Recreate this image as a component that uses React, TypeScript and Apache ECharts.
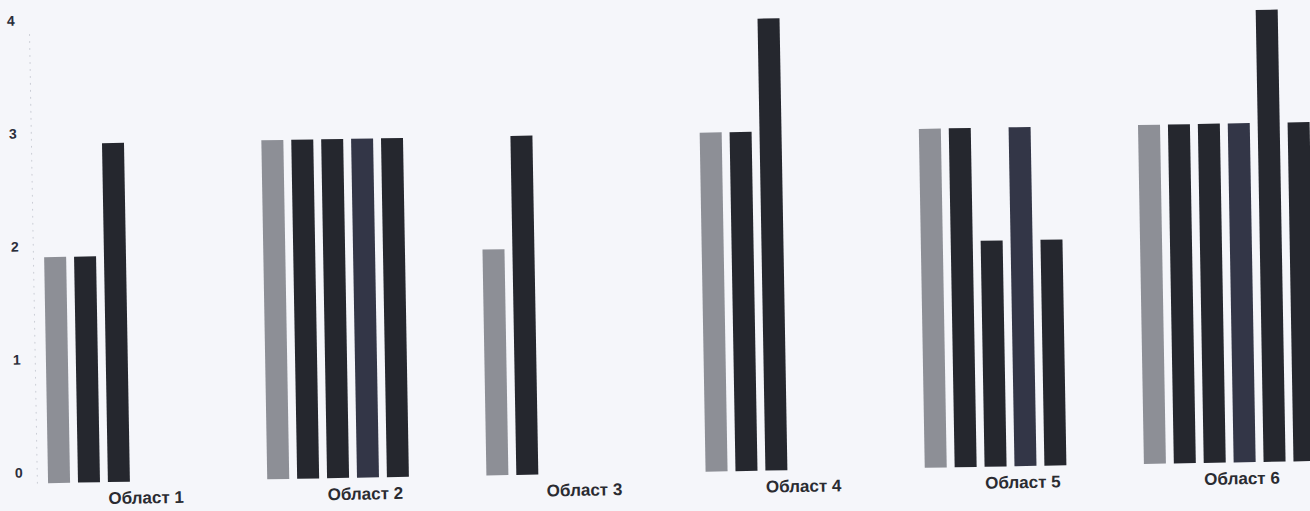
import React, { useEffect, useRef } from 'react';
import * as echarts from 'echarts';

const categories = ['Област 1', 'Област 2', 'Област 3', 'Област 4', 'Област 5', 'Област 6'];
const series1 = [2, 3, 2, 3, 3, 3];
const series2 = [2, 3, 3, 3, 3, 3];
const series3 = [3, 3, null, 4, 2, 3];
const series4 = [null, 3, null, null, 3, 3];
const series5 = [null, 3, null, null, 2, 4];
const series6 = [null, null, null, null, null, 3];
const yTicks = [0, 1, 2, 3, 4];

export default function App() {
  const ref = useRef<HTMLDivElement>(null);
  useEffect(() => {
    const chart = echarts.init(ref.current as HTMLDivElement, null, { renderer: 'svg' });
    const seriesData = [series1, series2, series3, series4, series5, series6];
    const colors = ['#8d8f96', '#25272e', '#25272e', '#333647', '#25272e', '#25272e'];
    chart.setOption({
      animation: false,
      backgroundColor: 'transparent',
      grid: { left: 20.4, top: 20.5, width: 1315.2, bottom: 38.5 },
      xAxis: {
        type: 'category',
        data: categories,
        axisLine: { show: false },
        axisTick: { show: false },
        splitLine: { show: false },
        axisLabel: {
          margin: 8,
          padding: [0, 0, 0, 24],
          fontFamily: 'Liberation Sans',
          fontWeight: 'bold',
          fontSize: 17,
          color: '#2a2b31',
        },
      },
      yAxis: {
        type: 'value',
        min: yTicks[0],
        max: yTicks[yTicks.length - 1],
        interval: 1,
        offset: -12.6,
        axisLine: { show: true, lineStyle: { type: [1, 6], color: '#c8cbd3', width: 1 } },
        axisTick: { show: false },
        splitLine: { show: false },
        axisLabel: {
          margin: 14,
          verticalAlign: 'bottom',
          padding: [0, 0, 4, 0],
          fontFamily: 'Liberation Sans',
          fontWeight: 'bold',
          fontSize: 14,
          color: '#2b2e3a',
        },
      },
      series: seriesData.map((d, i) => ({
        type: 'bar',
        name: 'S' + (i + 1),
        data: d,
        barWidth: 22,
        barGap: '36%',
        itemStyle: { color: colors[i] },
      })),
    });
    return () => chart.dispose();
  }, []);

  return (
    <div
      style={{
        position: 'fixed',
        left: 0,
        top: 0,
        width: 1310,
        height: 511,
        overflow: 'hidden',
        background: '#f5f6fa',
      }}
    >
      <div
        ref={ref}
        style={{
          width: 1345,
          height: 511,
          transform: 'rotate(-1deg)',
          transformOrigin: '655px 255.5px',
        }}
      />
    </div>
  );
}
